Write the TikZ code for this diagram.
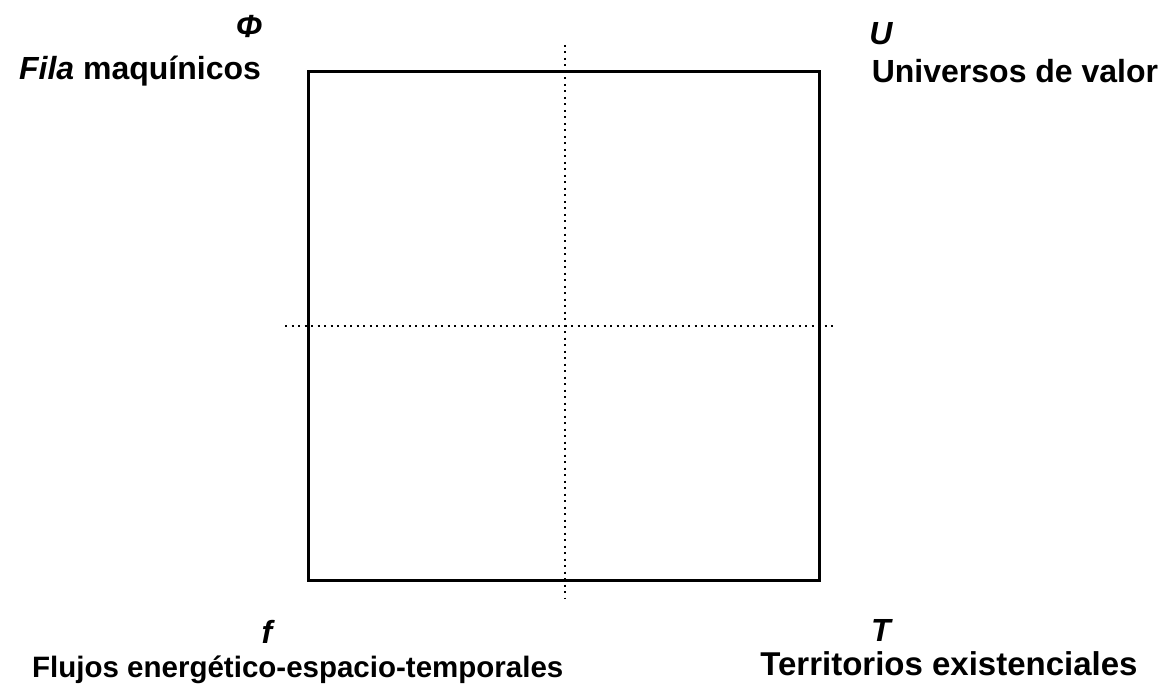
\documentclass[tikz,border=0pt]{standalone}
\usepackage{fontspec}
\setmainfont{Liberation Sans}
\usetikzlibrary{positioning}

\begin{document}
\begin{tikzpicture}[x=1pt, y=-1pt]
\tikzstyle{label}=[inner sep=0pt, anchor=base, font=\fontsize{32}{38}\selectfont\bfseries]
\tikzstyle{symbol}=[label, font=\fontsize{32}{38}\selectfont\bfseries\itshape]
\tikzstyle{frame}=[line width=3pt]
\tikzstyle{axis}=[line width=2.2pt, dash pattern=on 2pt off 4.5pt]

\useasboundingbox (0,0) rectangle (1171,690);

% corners of the square
\coordinate (nw) at (308,72);
\coordinate (se) at (819,580);

% ends of the dotted axes
\coordinate (top) at (565,45);
\coordinate (bottom) at (565,598);
\coordinate (left) at (285,326);
\coordinate (right) at (836,326);

\draw [frame] (nw) rectangle (se);
\draw [axis] (top) -- (bottom);
\draw [axis] (left) -- (right);

% quadrant labels
\node (phi) [symbol] at (249,38) {Φ};
\node (fila) [label] at (140,80) {\textit{Fila} maquínicos};
\node (u) [symbol] at (881,45) {U};
\node (universos) [label] at (1015,83) {Universos de valor};
\node (f) [symbol] at (267,643) {f};
\node (flujos) [label, anchor=base west, font=\fontsize{29.5}{36}\selectfont\bfseries] at (32,677) {Flujos energético-espacio-temporales};
\node (t) [symbol] at (881,641) {T};
\node (territorios) [label, font=\fontsize{33}{40}\selectfont\bfseries] at (949,675) {Territorios existenciales};

\end{tikzpicture}
\end{document}
